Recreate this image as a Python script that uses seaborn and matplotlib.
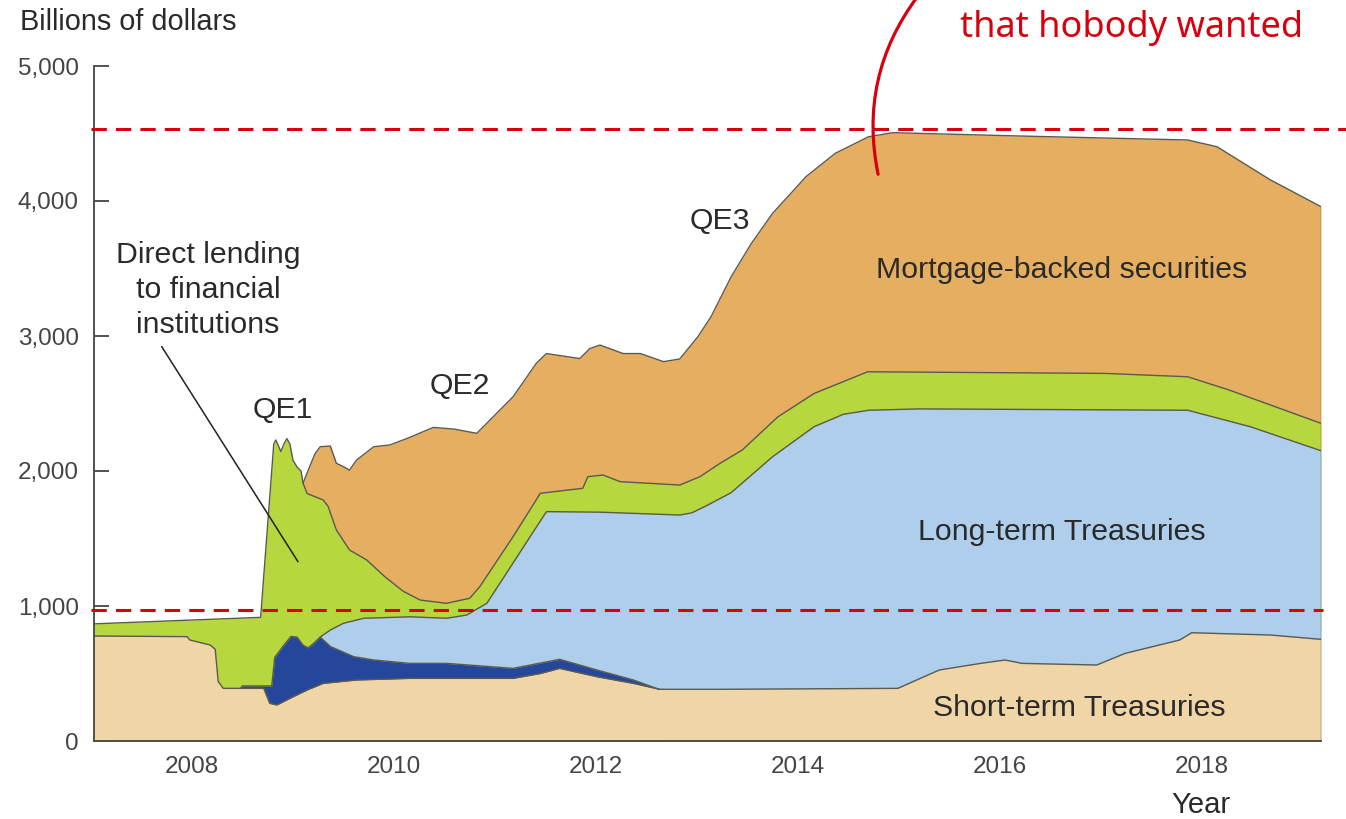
import numpy as np
import pandas as pd
import matplotlib
matplotlib.use("Agg")
import matplotlib.pyplot as plt
import seaborn as sns

# Fed balance sheet, top edge of each stacked layer in billions of dollars.
# Each layer keeps its own dates because the edges kink at different times.

# short-term Treasuries (bottom layer)
short_years = [2007.0, 2007.95, 2007.98, 2008.18, 2008.23, 2008.26, 2008.31, 2008.48,
               2008.71, 2008.77, 2008.84, 2008.97, 2009.14, 2009.30, 2009.63, 2010.16,
               2011.18, 2011.45, 2011.64, 2012.01, 2012.37, 2012.63, 2013.23, 2014.99,
               2015.40, 2015.81, 2016.05, 2016.22, 2016.96, 2017.24, 2017.78, 2017.90,
               2018.68, 2019.18]
short_top = [778, 773, 748, 711, 680, 440, 390, 390,
             390, 279, 267, 316, 378, 427, 452, 464,
             464, 500, 538, 476, 427, 383, 383, 390,
             526, 575, 600, 575, 563, 649, 748, 802,
             785, 753]

# dark blue band (agency debt) sitting on the short-term layer
agency_years = [2008.48, 2008.50, 2008.79, 2008.82, 2008.90, 2008.98, 2009.04, 2009.10,
                2009.15, 2009.20, 2009.27, 2009.37, 2009.60, 2009.80, 2010.16, 2010.52,
                2011.18, 2011.64, 2012.01, 2012.37, 2012.60, 2012.63]
agency_top = [390, 408, 408, 620, 700, 775, 770, 710,
              690, 720, 770, 700, 625, 600, 575, 575,
              538, 605, 526, 452, 390, 383]

# long-term Treasuries
long_years = [2009.27, 2009.37, 2009.50, 2009.70, 2010.16, 2010.52, 2010.72, 2010.92,
              2011.51, 2012.04, 2012.83, 2012.95, 2013.10, 2013.34, 2013.75, 2014.16,
              2014.45, 2014.70, 2015.20, 2017.86, 2018.48, 2019.18]
long_top = [770, 822, 872, 909, 920, 909, 933, 1020,
            1699, 1695, 1674, 1690, 1745, 1840, 2106, 2328,
            2420, 2450, 2460, 2450, 2328, 2150]

# direct lending to financial institutions
lending_years = [2007.0, 2008.68, 2008.81, 2008.83, 2008.86, 2008.88, 2008.91, 2008.94,
                 2008.97, 2009.00, 2009.04, 2009.08, 2009.10, 2009.14, 2009.30, 2009.35,
                 2009.37, 2009.43, 2009.56, 2009.73, 2009.91, 2010.09, 2010.26, 2010.52,
                 2010.75, 2010.85, 2011.18, 2011.45, 2011.87, 2011.92, 2012.07, 2012.24,
                 2012.83, 2013.03, 2013.23, 2013.45, 2013.80, 2014.16, 2014.69, 2017.04,
                 2017.86, 2018.27, 2019.18]
lending_top = [867, 916, 2200, 2230, 2180, 2143, 2200, 2240,
               2200, 2080, 2030, 2000, 1910, 1833, 1785, 1736,
               1689, 1563, 1415, 1341, 1217, 1110, 1044, 1020,
               1057, 1143, 1514, 1835, 1872, 1958, 1970, 1921,
               1896, 1958, 2057, 2156, 2400, 2574, 2735, 2723,
               2698, 2600, 2353]

# mortgage-backed securities (top layer)
mbs_years = [2009.10, 2009.18, 2009.22, 2009.27, 2009.37, 2009.43, 2009.50, 2009.56,
             2009.63, 2009.80, 2009.96, 2010.13, 2010.39, 2010.60, 2010.82, 2011.18,
             2011.41, 2011.51, 2011.84, 2011.94, 2012.04, 2012.27, 2012.44, 2012.67,
             2012.83, 2013.01, 2013.14, 2013.34, 2013.54, 2013.75, 2013.96, 2014.08,
             2014.37, 2014.70, 2014.94, 2016.22, 2017.86, 2018.15, 2018.68, 2019.18]
mbs_top = [1910, 2059, 2130, 2180, 2185, 2057, 2032, 2007,
           2081, 2180, 2193, 2241, 2323, 2310, 2279, 2550,
           2798, 2870, 2833, 2907, 2933, 2870, 2870, 2810,
           2830, 2995, 3143, 3440, 3686, 3909, 4081, 4180,
           4353, 4476, 4506, 4481, 4452, 4402, 4156, 3958]

# the two red reference levels drawn over the chart
ref_levels = [970, 4535]

layers = [
    ("Mortgage-backed securities", mbs_years, mbs_top, "#E5AE60"),
    ("Direct lending", lending_years, lending_top, "#B6D73E"),
    ("Long-term Treasuries", long_years, long_top, "#AECEEB"),
    ("Agency debt", agency_years, agency_top, "#24479B"),
    ("Short-term Treasuries", short_years, short_top, "#F0D5A6"),
]

sns.set_theme(style="ticks")
plt.rcParams['font.family'] = ['Liberation Sans', 'DejaVu Sans']

fig = plt.figure(figsize=(13.46, 8.19), dpi=100)
ax = fig.add_axes([94 / 1346, 1 - 741 / 819, 1227 / 1346, 675 / 819])

# painter's order: each layer filled from zero, lower layers drawn on top
for name, yrs, top, col in layers:
    ax.fill_between(yrs, 0, top, color=col, lw=0, zorder=1)

edge = "#5a5a4e"
for name, yrs, top, col in layers:
    df = pd.DataFrame({"year": yrs, "top": top})
    sns.lineplot(data=df, x="year", y="top", ax=ax, color=edge, lw=1.0,
                 estimator=None, sort=False, zorder=2)
ax.plot([mbs_years[-1], mbs_years[-1]], [0, mbs_top[-1]], color=edge, lw=1.0, zorder=2)

red = "#D7000F"
ax.plot([2007.0, 2019.2], [ref_levels[0]] * 2, color=red, lw=2.2, dashes=(5, 3),
        zorder=4, clip_on=False)
ax.plot([2007.0, 2019.45], [ref_levels[1]] * 2, color=red, lw=2.2, dashes=(5, 3),
        zorder=4, clip_on=False)

ax.set_xlim(2007.03, 2019.18)
ax.set_ylim(0, 5000)
ax.set_xticks([2008, 2010, 2012, 2014, 2016, 2018])
ax.set_yticks([0, 1000, 2000, 3000, 4000, 5000])
ax.set_yticklabels([f"{v:,}" for v in [0, 1000, 2000, 3000, 4000, 5000]])
ax.set_xlabel("")
ax.set_ylabel("")
sns.despine(ax=ax)
for s in ["left", "bottom"]:
    ax.spines[s].set_color("#444444")
    ax.spines[s].set_linewidth(1.3)
ax.tick_params(direction="in", length=11, width=1.3, color="#444444",
               labelsize=17.5, labelcolor="#444444", pad=11)

txt = "#2a2a2a"
fig.text(20 / 1346, 1 - 22 / 819, "Billions of dollars", fontsize=20.8, color=txt,
         ha="left", va="center")
fig.text(1201 / 1346, 1 - 805 / 819, "Year", fontsize=21, color=txt,
         ha="center", va="center")

lab = dict(fontsize=21.8, color=txt, ha="center", va="center", zorder=5)
ax.text(2016.61, 3489, "Mortgage-backed securities", **lab)
ax.text(2016.61, 1548, "Long-term Treasuries", **lab)
ax.text(2016.79, 245, "Short-term Treasuries", **lab)
ax.text(2008.90, 2452, "QE1", **lab)
ax.text(2010.65, 2630, "QE2", **lab)
ax.text(2013.23, 3852, "QE3", **lab)
ax.text(2008.16, 3340, "Direct lending\nto financial\ninstitutions", linespacing=1.3, **lab)
ax.plot([2007.70, 2009.05], [2922, 1328], color="#222222", lw=1.1, zorder=5)

# handwritten remark in red at the top
fig.text(960 / 1346, 1 - 37 / 819, "that hobody wanted", fontsize=26, color=red,
         ha="left", va="baseline", family=["Noto Sans", "DejaVu Sans"])
ax.annotate("", xy=(2014.80, 4178), xytext=(2015.20, 5530),
            arrowprops=dict(arrowstyle="-", color=red, lw=2.3,
                            connectionstyle="arc3,rad=0.23"),
            annotation_clip=False, zorder=6)

fig.savefig("out.png", dpi=100)
